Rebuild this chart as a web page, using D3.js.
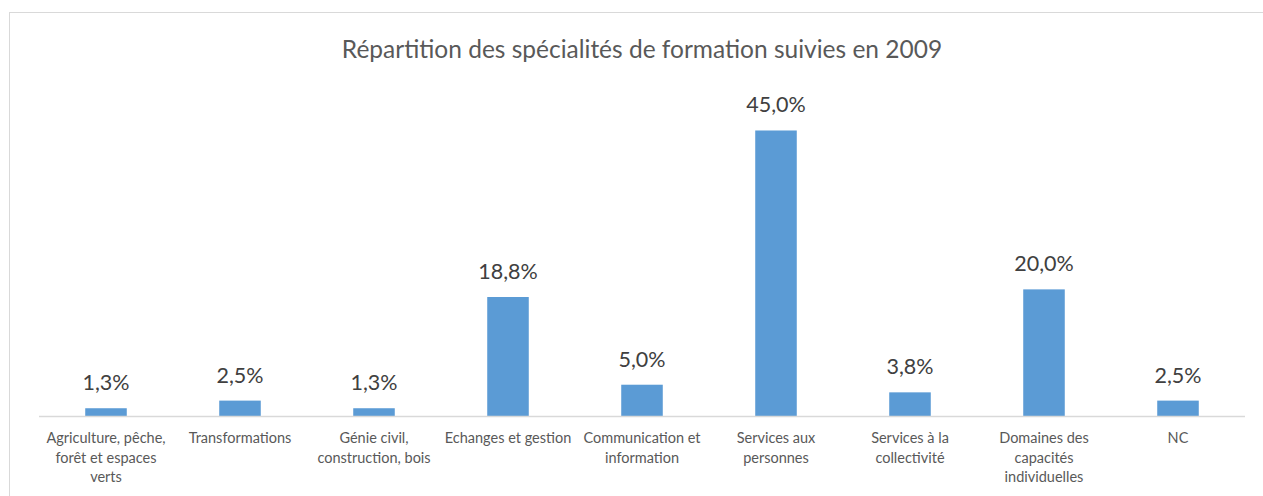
<!DOCTYPE html>
<html><head><meta charset="utf-8">
<script src="https://cdn.jsdelivr.net/npm/d3@7"></script>
<style>body{margin:0;background:#fff}svg{display:block}text{font-family:Lato,"Open Sans",sans-serif}</style>
</head><body><svg id="c" width="1263" height="496"></svg>
<script>
const categories = [
  ["Agriculture, pêche,","forêt et espaces","verts"],
  ["Transformations"],
  ["Génie civil,","construction, bois"],
  ["Echanges et gestion"],
  ["Communication et","information"],
  ["Services aux","personnes"],
  ["Services à la","collectivité"],
  ["Domaines des","capacités","individuelles"],
  ["NC"]
];
const values = [1.3, 2.5, 1.3, 18.8, 5.0, 45.0, 3.8, 20.0, 2.5];
const titleText = "Répartition des spécialités de formation suivies en 2009";

const svg = d3.select("#c");
svg.append("rect").attr("x",9.5).attr("y",12.5).attr("width",1300).attr("height",600)
  .attr("fill","#fff").attr("stroke","#d9d9d9").attr("stroke-width",1);

const left=39, right=1245, base=416.5;
const x = d3.scaleBand().domain(d3.range(values.length)).range([left,right]).paddingInner(0.69).paddingOuter(0.345);
const y = d3.scaleLinear().domain([0,50]).range([base, base-317.8]);

svg.append("text").attr("x",642).attr("y",58).attr("text-anchor","middle")
  .attr("font-size",24.5).attr("fill","#595959").text(titleText);

svg.selectAll("rect.bar").data(values).join("rect").attr("class","bar")
  .attr("x",(d,i)=>x(i)).attr("width",x.bandwidth())
  .attr("y",d=>y(d)).attr("height",d=>base-y(d)).attr("fill","#5b9bd5");

svg.append("line").attr("x1",left).attr("x2",right).attr("y1",base).attr("y2",base)
  .attr("stroke","#d9d9d9").attr("stroke-width",1.5);

svg.selectAll("text.val").data(values).join("text").attr("class","val")
  .attr("x",(d,i)=>x(i)+x.bandwidth()/2).attr("y",d=>y(d)-18)
  .attr("text-anchor","middle").attr("font-size",21.5).attr("fill","#404040")
  .text(d=>d3.format(".1f")(d).replace(".",",")+"%");

categories.forEach((lines,i)=>{
  const t = svg.append("text").attr("text-anchor","middle").attr("font-size",14.5).attr("fill","#595959");
  lines.forEach((l,j)=>{
    t.append("tspan").attr("x",x(i)+x.bandwidth()/2).attr("y",443+j*19.5).text(l);
  });
});
</script></body></html>
